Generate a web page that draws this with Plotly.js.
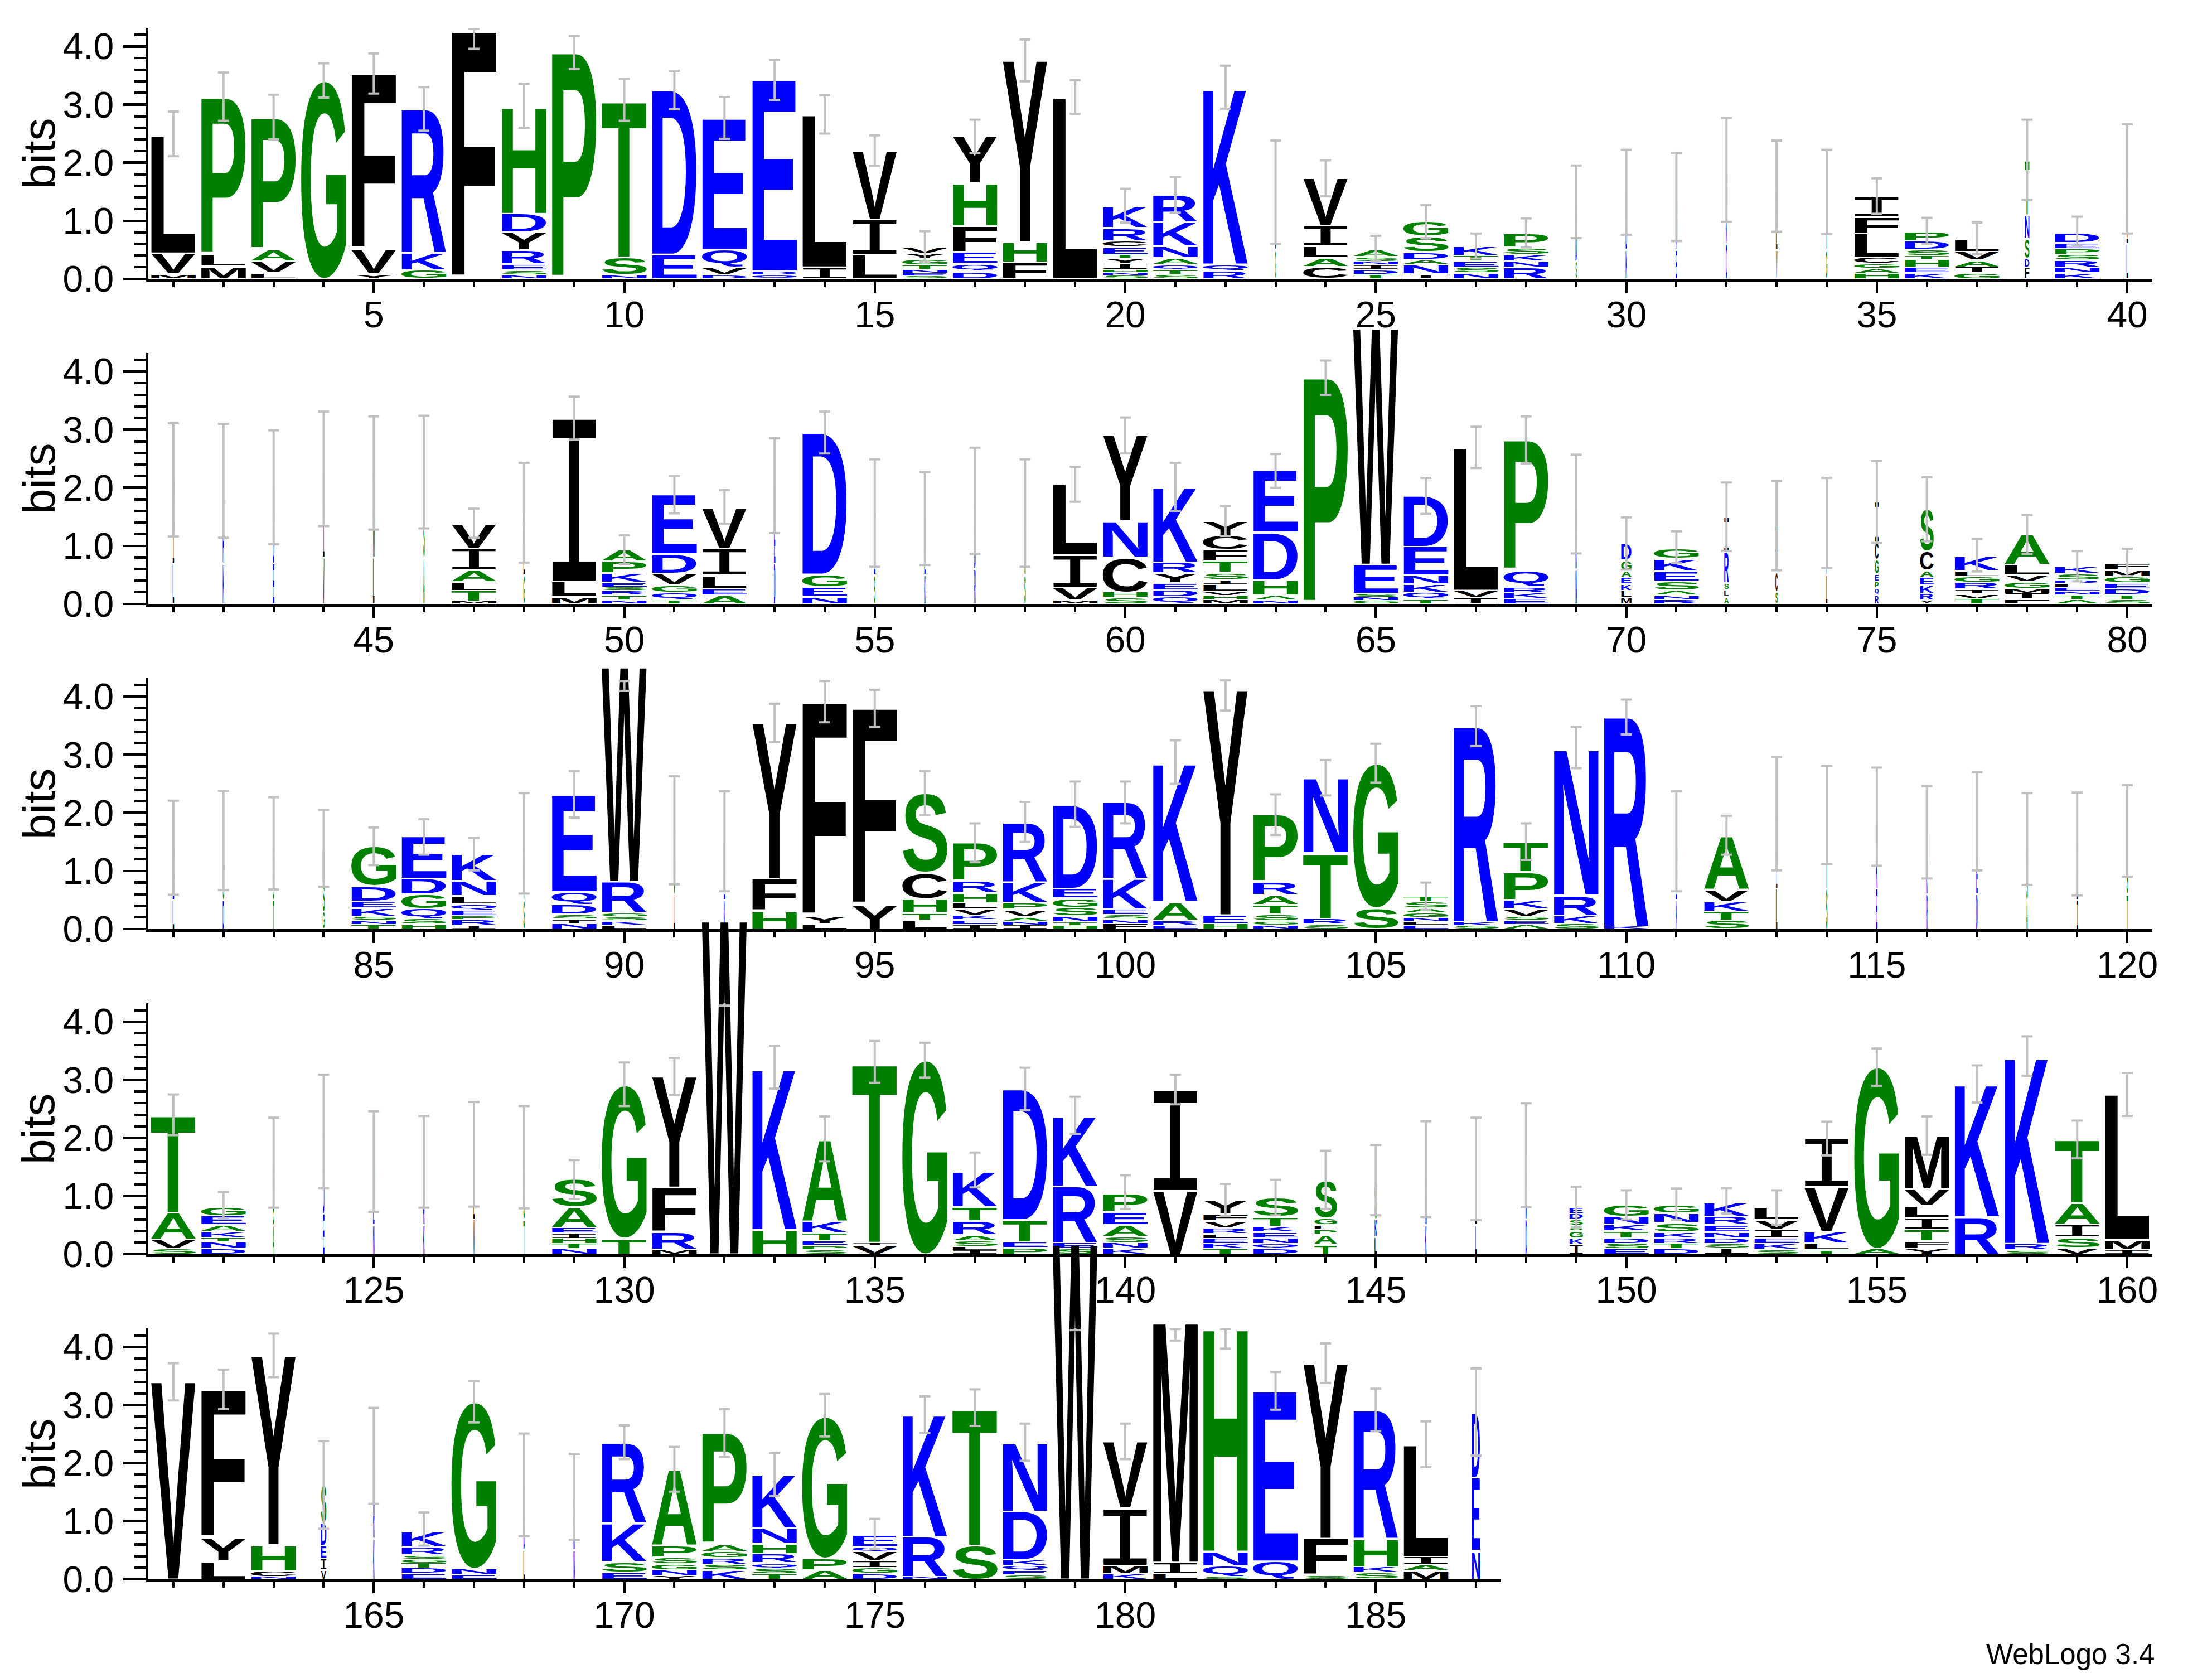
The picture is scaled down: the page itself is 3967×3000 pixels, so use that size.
<!DOCTYPE html>
<html>
<head>
<meta charset="utf-8">
<script src="https://cdn.plot.ly/plotly-3.0.1.min.js"></script>
<style>
html,body{margin:0;padding:0;background:#ffffff;}
#logo{width:3967px;height:3000px;}
</style>
</head>
<body>
<div id="logo"></div>
<script>
// Residues of each column, listed bottom -> top
const stackLetters = [
"MVL","MLP","LVAP","G","YVF","GKR","F","NSERYDH","P","NST",
"ED","DVQE","QDE","IL","LIV","SENTGYV","DQEFHY","FHY","L","SNHIYTECRK",
"STQANKR","RQK","GDL","CALIV","TDINSA","INADSG","NSETK","RNKSP","SDG","KDN",
"END","DKG","VLS","GTL","HAGCLFI","KEHTSDP","GIAVL","FDSNT","KNRSPED","LIV",
"LIV","KRD","EDN","VIL","LMI","ASG","MTLAIV","GLS","MLI","NTRSEKPA",
"TQGVDE","AELIV","DEK","NEGD","SET","KEN","RDK","SAG","MVIL","SHCNY",
"QDEYRK","MHVLISTFCY","NAHDE","P","GNSEW","TQKNED","IVL","EKRQP","NKD","MLKEAGD",
"RNASEKG","ALSRI","SCIT","LTG","RQPEGCI","YRKEACS","TVIRGLK","FIMGVLA","ATNELRSK","STDEGMF",
"LEV","DSL","TSG","GSK","TNSKEDG","HSQGDE","IRPEQLNK","STG","NISDQE","LKSGRW",
"LVI","KED","HFY","LYF","YF","LTHCS","IEKVLHRP","INAVPKR","HTNSGED","FNSEKR",
"ERAK","HEY","NGSTARP","SRTN","SG","ELNGAST","SKR","AESVKPT","SKRN","KR",
"KED","STKVA","LIV","STG","EKD","RKN","DEK","ASG","ILV","TSG",
"SVAT","DNTKAEG","ASG","EDK","NED","KRE","VLI","TSG","NTHIEAS","TG",
"MRFY","W","HK","SPETKA","VIT","G","ILSARTK","PETD","SERK","KNSAEP",
"VI","TKELRVFY","DQNEKTS","TAPLGS","LKS","KNG","LIV","DNG","IKGASDE","ESDTKNG",
"DTRKSNG","ISDNERK","SKEIVL","TLKVI","AG","YFTILVM","RK","SRK","VSIAT","IML",
"V","LYF","NCHY","VIEDS","KRD","EDTGSRK","ENG","LDI","NKR","ESKR",
"YNGSPA","KSRGAP","TSQRHNK","APG","DGIVQE","NRK","ST","SEQKDN","W","KMIV",
"LIM","SQNH","QE","SFY","SKHR","MAIL","NED"
];
// Height (bits) of each residue, same order as stackLetters
const stackBits = [
[.08,.36,2.02],[.22,.2,2.7],[.1,.2,.2,2.27],[3.41],[.08,.42,3.03],[.15,.3,2.47],[4.26],[.07,.08,.1,.24,.31,.32,1.85],[3.89],[.07,.3,2.71],
[.42,2.83],[.07,.13,.3,2.26],[.07,.06,3.3],[.2,2.62],[.42,.6,1.18],[.05,.05,.06,.08,.1,.1,.1],[.13,.13,.2,.45,.74,.81],[.28,.35,3.13],[3.12],[.06,.05,.05,.1,.1,.06,.13,.1,.23,.37],
[.08,.08,.09,.11,.2,.41,.47],[.14,.11,3.05],[.5,.5,.5],[.21,.15,.2,.36,.81],[.08,.08,.08,.06,.08,.13],[.08,.17,.08,.13,.27,.27],[.1,.1,.1,.1,.17],[.2,.1,.12,.12,.24],[.3,.6,.42],[.5,.5,.49],
[.5,.5,.41],[.6,.6,.68],[.5,.5,.6],[.5,.5,.5],[.1,.08,.08,.11,.41,.28,.36],[.1,.1,.14,.06,.1,.15,.17],[.1,.1,.12,.15,.23],[.2,.15,.35,.4,.95],[.1,.1,.12,.1,.1,.1,.18],[.6,.6,.52],
[.7,.7,.73],[.7,.7,.72],[.7,.7,.61],[.8,.8,.72],[.8,.7,.76],[.8,.7,.77],[.04,.19,.15,.2,.38,.42],[.5,.5,.57],[.13,.26,2.8],[.07,.08,.08,.06,.08,.16,.2,.2],
[.07,.13,.13,.19,.34,1.02],[.15,.11,.23,.46,.71],[.7,.7,.64],[.13,.16,.22,2.44],[.5,.5,.57],[.5,.5,.47],[.6,.6,.58],[.5,.5,.57],[.06,.22,.56,1.22],[.11,.09,.6,.63,1.48],
[.12,.12,.12,.17,.19,1.3],[.08,.07,.07,.12,.08,.12,.2,.19,.25,.25],[.07,.08,.26,.82,1.07],[3.89],[.06,.06,.06,.5,4.07],[.08,.12,.14,.15,.49,.88],[.11,.12,2.46],[.09,.1,.1,.29,2.24],[.6,.6,.52],[.11,.12,.11,.12,.11,.18,.28],
[.08,.07,.08,.16,.17,.22,.18],[.12,.12,.12,.53,.61],[.2,.35,.4,.4],[.5,.5,.4],[.15,.12,.12,.12,.25,.3,.7],[.06,.12,.14,.14,.12,.33,.73],[.09,.08,.08,.12,.1,.1,.25],[.08,.1,.08,.12,.12,.18,.53],[.08,.08,.06,.06,.08,.05,.11,.13],[.08,.08,.1,.1,.11,.12,.11],
[.5,.45,.45],[.5,.5,.53],[.5,.5,.47],[.3,.5,.59],[.08,.07,.07,.14,.12,.26,.68],[.08,.09,.18,.25,.27,.73],[.06,.1,.07,.09,.11,.14,.26,.46],[.5,.5,.48],[.09,.08,.08,.17,.22,1.68],[.07,.07,.07,.07,.53,3.7],
[.6,.5,.6],[.5,.5,.51],[.31,.55,2.69],[.08,.14,3.68],[.41,3.39],[.15,.13,.24,.45,1.37],[.08,.08,.08,.11,.1,.18,.2,.65],[.07,.07,.07,.13,.12,.35,1.03],[.06,.06,.1,.15,.16,.17,1.44],[.09,.08,.08,.09,.53,1.32],
[.07,.08,.32,2.4],[.09,.15,3.88],[.07,.07,.11,.17,.17,.22,1.17],[.08,.1,1.13,1.3],[.36,2.49],[.07,.07,.06,.08,.08,.11,.09],[.06,.06,3.36],[.08,.07,.07,.13,.15,.48,.51],[.09,.14,.35,2.54],[.04,3.61],
[.5,.5,.51],[.15,.15,.18,.2,.93],[.7,.6,.68],[.7,.6,.66],[.7,.6,.64],[.6,.5,.57],[.6,.6,.66],[.5,.5,.55],[.5,.5,.47],[.6,.5,.59],
[.09,.16,.46,1.69],[.1,.11,.08,.1,.11,.16,.16],[.5,.5,.58],[.7,.7,.72],[.5,.5,.6],[.5,.5,.59],[.6,.5,.62],[.6,.5,.57],[.09,.09,.09,.09,.1,.35,.48],[.27,2.64],
[.08,.3,.77,1.91],[5.74],[.42,2.79],[.08,.07,.08,.14,.2,1.41],[.15,.05,3.1],[3.34],[.07,.06,.1,.1,.24,.24,.62],[.11,.1,.38,2.25],[.1,.1,.97,1.22],[.1,.1,.1,.2,.23,.31],
[1.1,1.72],[.09,.09,.09,.08,.1,.12,.12,.25],[.1,.08,.1,.1,.1,.16,.33],[.17,.17,.08,.08,.12,.65],[.3,.3,.67],[.5,.5,.46],[.5,.5,.47],[.6,.5,.6],[.17,.1,.13,.1,.1,.1,.11],[.09,.09,.09,.13,.11,.14,.2],
[.09,.09,.1,.1,.16,.16,.14],[.1,.08,.1,.1,.13,.14,.24],[.08,.1,.1,.15,.16,.23],[.07,.12,.2,.77,.84],[.09,3.13],[.1,.13,.2,.2,.2,.29,.92],[.64,2.3],[.07,.11,3.23],[.11,.18,.22,.37,1.1],[.07,.18,2.5],
[3.4],[.31,.4,2.55],[.05,.09,.45,3.26],[.16,.2,.22,.4,.65],[.7,.7,.73],[.1,.09,.09,.07,.07,.14,.26],[.08,.1,2.87],[.5,.5,.63],[.5,.5,.42],[.12,.18,.67,1.38],
[.06,.1,.1,.12,.2,1.31],[.16,.1,.11,.11,.13,1.91],[.09,.1,.09,.16,.18,.26,.92],[.16,.2,2.44],[.1,.1,.12,.16,.08,.2],[.04,.69,2.12],[.58,2.37],[.08,.08,.08,.09,.84,1.19],[5.77],[.09,.15,.98,1.15],
[.09,.2,4.18],[.05,.18,.25,3.87],[.31,2.93],[.07,.63,3.02],[.12,.09,.49,2.21],[.15,.1,.14,1.92],[.49,1.26,1.11]
];
// Fraction of full column width (gappy columns are drawn narrow)
const columnWidth = [
1,1,1,1,1,1,1,1,1,1, 1,1,1,1,1,1,1,1,1,1, 1,1,.02,1,1,1,1,1,.03,.03, .03,.03,.03,.03,1,1,1,.1,1,.03,
.03,.03,.03,.03,.03,.03,1,.03,1,1, 1,1,.03,1,.03,.03,.03,.03,1,1, 1,1,1,1,1,1,1,1,.03,.23, 1,.1,.05,.03,.08,.3,1,1,1,1,
.03,.03,.03,.04,1,1,1,.03,1,1, .03,.03,1,1,1,1,1,1,1,1, 1,1,1,1,1,1,1,1,1,1, .03,1,.03,.03,.03,.03,.03,.03,.03,.03,
1,1,.03,.03,.03,.03,.03,.03,1,1, 1,1,1,1,1,1,1,1,1,1, 1,1,1,.5,.05,.03,.03,.03,.3,1, 1,1,1,1,1,1,1,1,1,1,
1,1,1,.12,.03,1,1,.03,.03,1, 1,1,1,1,1,1,1,1,1,1, 1,1,1,1,1,1,.18
];
// Error bar ends (bits)
const errorLow = [
2.11,2.72,2.40,3.12,3.19,2.55,3.96,2.60,3.61,2.72, 2.92,2.41,3.08,2.50,1.94,0.29,2.16,3.40,2.84,0.97,
1.14,2.93,0.60,1.42,0.30,0.70,0.35,0.54,0.70,0.76, 0.65,0.98,0.81,0.77,1.12,0.60,0.43,1.36,0.57,0.78,
1.16,1.14,1.03,1.34,1.28,1.30,1.14,0.71,2.83,0.69, 1.56,1.38,1.22,2.59,0.64,0.67,0.86,0.64,1.76,2.59,
1.60,1.17,2.00,3.60,4.34,1.55,2.34,2.42,0.87,0.59, 0.70,0.91,0.58,0.62,1.05,1.08,0.56,0.86,0.39,0.48,
0.59,0.67,0.68,0.73,1.10,1.28,1.01,0.61,1.92,4.10, 0.77,0.65,3.22,3.56,3.48,1.96,1.15,1.50,1.76,1.82,
2.50,3.76,1.62,2.30,2.52,0.33,3.15,1.19,2.77,3.35, 0.65,1.28,1.01,1.12,1.09,0.87,1.01,0.76,0.58,0.90,
2.05,0.61,0.80,1.14,0.73,0.80,0.82,0.79,0.95,2.55, 2.74,4.28,2.85,1.60,2.95,3.04,1.15,2.48,2.07,0.78,
2.58,0.66,0.67,0.78,0.67,0.64,0.59,0.81,0.46,0.60, 0.59,0.70,0.51,1.70,2.90,1.71,2.61,3.07,1.65,2.38,
3.08,2.93,3.48,0.87,1.30,0.58,2.70,0.74,0.68,2.07, 1.51,2.11,1.43,2.46,0.52,2.52,2.64,2.04,4.29,2.07,
4.11,3.97,2.92,3.38,2.55,1.93,2.13
];
const errorHigh = [
2.88,3.55,3.17,3.71,3.88,3.30,4.30,3.36,4.18,3.44, 3.58,3.13,3.77,3.16,2.47,0.82,2.74,4.12,3.42,1.55,
1.75,3.67,2.38,2.04,0.74,1.27,0.78,1.04,1.95,2.22, 2.17,2.77,2.38,2.22,1.73,1.05,0.97,2.74,1.07,2.66,
3.11,3.10,2.99,3.31,3.23,3.24,1.64,2.43,3.57,1.18, 2.20,1.96,2.85,3.31,2.49,2.27,2.69,2.49,2.36,3.21,
2.43,1.68,2.58,4.19,4.72,2.17,3.05,3.23,2.57,1.49, 1.25,2.09,2.12,2.17,2.46,2.18,1.12,1.53,0.91,0.95,
2.21,2.38,2.27,2.05,1.75,1.89,1.57,2.34,2.72,4.27, 2.63,2.37,3.88,4.27,4.12,2.72,1.82,2.19,2.54,2.54,
3.25,4.28,2.32,2.91,3.19,0.80,3.84,1.82,3.48,3.95, 2.37,1.95,2.96,2.81,2.78,2.46,2.70,2.34,2.35,2.48,
2.75,1.07,2.35,3.09,2.46,2.38,2.62,2.55,1.62,3.30, 3.38,5.44,3.59,2.37,3.67,3.64,1.75,3.21,2.71,1.36,
3.09,1.21,1.28,1.78,1.88,2.29,2.35,2.60,1.16,1.10, 1.13,1.14,1.10,2.28,3.54,2.37,3.25,3.75,2.30,3.12,
3.72,3.61,4.23,2.38,2.95,1.15,3.41,2.51,2.16,2.65, 2.28,2.93,2.17,3.19,1.04,3.15,3.27,2.68,5.44,2.68,
4.31,4.31,3.57,4.06,3.28,2.72,3.63
];
const rowFirst = [1, 41, 81, 121, 161];
const rowLast  = [40, 80, 120, 160, 187];
const yAxisMax = 4.32;   // log2(20)
const yAxisTitle = "bits";
const creditText = "WebLogo 3.4";

// ---------------- STYLE ----------------
const residueColor = {};
"LFVYWIMC".split("").forEach(c => residueColor[c] = "#000000");
"PGHTSA".split("").forEach(c => residueColor[c] = "#008000");
"RDEKNQ".split("").forEach(c => residueColor[c] = "#0000ff");
const GLYPH_FILL = 0.45;     // half width of a full column glyph (position units)
const CAP_HALF = 0.11;       // error-bar cap half width (position units)
const BASE_FONT = 100;
const W = 3967, H = 3000, ML = 266, MR = 107, MT = 50, MB = 168;
const ROW_BASE_PX = [500, 1083, 1666, 2249, 2832];
const ROW_H_PX = 450;
const plotH = H - MT - MB;
const plotW = W - ML - MR;
const labelFont = "Liberation Sans, Arial, Helvetica, sans-serif";

function glyphFont(ch) {
  return ch === "I" ? {family: "Liberation Mono", weight: "normal"}
                    : {family: "Liberation Sans", weight: "bold"};
}

// ---------------- TRACES / LAYOUT ----------------
const traces = [];
const annotations = [{
  xref: "paper", yref: "paper",
  x: (3866 - ML) / plotW, y: (H - MB - 2966) / plotH,
  xanchor: "right", yanchor: "middle", showarrow: false,
  text: creditText, font: {family: labelFont, size: 51, color: "#000000"}
}];
const layout = {
  width: W, height: H,
  margin: {l: ML, r: MR, t: MT, b: MB, pad: 0},
  paper_bgcolor: "#ffffff", plot_bgcolor: "#ffffff",
  showlegend: false,
  font: {family: labelFont, color: "#000000"},
  annotations: annotations
};

for (let r = 0; r < 5; r++) {
  const s = r === 0 ? "" : String(r + 1);
  const first = rowFirst[r], last = rowLast[r];
  const yb = (H - MB - ROW_BASE_PX[r]) / plotH;
  const yt = Math.min(1, (H - MB - ROW_BASE_PX[r] + ROW_H_PX) / plotH);
  const xEnd = (last - first + 1) / 40;

  layout["xaxis" + s] = {
    domain: [0, xEnd], range: [first - 0.5, last + 0.5], anchor: "y" + s,
    tick0: 0, dtick: 5, ticks: "outside", ticklen: 20, tickwidth: 4, tickcolor: "#000",
    showline: true, linewidth: 5, linecolor: "#000", showgrid: false, zeroline: false,
    ticklabelstandoff: -17,
    tickfont: {family: labelFont, size: 66, color: "#000"},
    minor: {dtick: 1, ticks: "outside", ticklen: 10, tickwidth: 4, tickcolor: "#000", showgrid: false},
    fixedrange: true
  };
  layout["yaxis" + s] = {
    domain: [yb, yt], range: [0, yAxisMax], anchor: "x" + s,
    tick0: 0, dtick: 1, tickformat: ".1f", ticks: "outside", ticklen: 41, tickwidth: 4.5, tickcolor: "#000",
    showline: true, linewidth: 4.5, linecolor: "#000", showgrid: false, zeroline: false,
    ticklabelstandoff: 3,
    tickfont: {family: labelFont, size: 66, color: "#000"},
    minor: {dtick: 0.2, ticks: "outside", ticklen: 21, tickwidth: 4.5, tickcolor: "#000", showgrid: false},
    fixedrange: true
  };
  // "bits" axis label for this row
  annotations.push({
    xref: "paper", yref: "paper",
    x: (69 - ML) / plotW, y: (yb + yt) / 2,
    xanchor: "center", yanchor: "middle", showarrow: false, textangle: -90,
    text: yAxisTitle, font: {family: labelFont, size: 82, color: "#000000"}
  });

  // letters
  const lx = [], ly = [], lt = [], lc = [], cdat = [];
  for (let p = first; p <= last; p++) {
    const letters = stackLetters[p - 1], bits = stackBits[p - 1];
    const hw = GLYPH_FILL * columnWidth[p - 1];
    let cum = 0;
    const n = Math.min(letters.length, bits.length);
    for (let i = 0; i < n; i++) {
      const y0 = cum, y1 = cum + bits[i];
      lx.push(p); ly.push((y0 + y1) / 2); lt.push(letters[i]);
      lc.push(residueColor[letters[i]] || "#000");
      cdat.push([p, hw, y0, y1]);
      cum = y1;
    }
  }
  traces.push({
    type: "scatter", mode: "text", x: lx, y: ly, text: lt, customdata: cdat,
    textposition: "middle center",
    textfont: {family: "Liberation Sans", size: BASE_FONT, color: lc},
    xaxis: "x" + s, yaxis: "y" + s, cliponaxis: false, hoverinfo: "skip", showlegend: false
  });

  // error bars (vertical line + two caps)
  const ex = [], ey = [];
  for (let p = first; p <= last; p++) {
    const lo = errorLow[p - 1], hi = errorHigh[p - 1];
    ex.push(p, p, null); ey.push(lo, hi, null);
    ex.push(p - CAP_HALF, p + CAP_HALF, null); ey.push(hi, hi, null);
    ex.push(p - CAP_HALF, p + CAP_HALF, null); ey.push(lo, lo, null);
  }
  traces.push({
    type: "scatter", mode: "lines", x: ex, y: ey,
    line: {color: "#c0c0c0", width: 4},
    xaxis: "x" + s, yaxis: "y" + s, cliponaxis: false, hoverinfo: "skip", showlegend: false,
    connectgaps: false
  });
}

// ---------------- stretch each letter glyph into its stack cell ----------------
function axisKey(id) { return (id.charAt(0) === "x" ? "xaxis" : "yaxis") + id.slice(1); }

function stretchLetters(gd) {
  const fl = gd._fullLayout;
  const ctx = document.createElement("canvas").getContext("2d");
  const cache = {};
  function ink(ch) {
    const f = glyphFont(ch);
    if (cache[ch]) return cache[ch];
    ctx.font = f.weight + " " + BASE_FONT + 'px "' + f.family + '"';
    const m = ctx.measureText(ch);
    const res = {l: m.actualBoundingBoxLeft, r: m.actualBoundingBoxRight,
                 a: m.actualBoundingBoxAscent, d: m.actualBoundingBoxDescent, f: f};
    cache[ch] = res;
    return res;
  }
  gd.querySelectorAll("g.trace").forEach(function (tg) {
    const cd = tg.__data__;
    if (!cd || !cd[0] || !cd[0].trace || cd[0].trace.mode !== "text") return;
    const tr = cd[0].trace;
    const xa = fl[axisKey(tr.xaxis)], ya = fl[axisKey(tr.yaxis)];
    tg.querySelectorAll("g.textpoint").forEach(function (g) {
      const d = g.__data__;
      const t = g.querySelector("text");
      if (!d || !t) return;
      const info = d.data || (tr.customdata && tr.customdata[d.i]);
      if (!info) return;
      const ch = t.textContent;
      const k = ink(ch);
      const px0 = xa.l2p(info[0] - info[1]), px1 = xa.l2p(info[0] + info[1]);
      const pyB = ya.l2p(info[2]), pyT = ya.l2p(info[3]);
      const cell = pyB - pyT;
      const pad = Math.min(1.5, cell * 0.12);
      const top = pyT + pad, bot = pyB - pad;
      const iw = Math.max(1e-6, k.l + k.r), ih = Math.max(1e-6, k.a + k.d);
      const sx = (px1 - px0) / iw, sy = Math.max(0.0001, bot - top) / ih;
      g.removeAttribute("transform");
      t.setAttribute("x", 0); t.setAttribute("y", 0);
      t.removeAttribute("dy");
      t.setAttribute("text-anchor", "start");
      t.style.fontFamily = '"' + k.f.family + '"';
      t.style.fontWeight = k.f.weight;
      t.style.fontSize = BASE_FONT + "px";
      t.setAttribute("transform",
        "translate(" + (px0 + k.l * sx) + "," + (bot - k.d * sy) + ") scale(" + sx + "," + sy + ")");
    });
  });
}

const gd = document.getElementById("logo");
Plotly.newPlot(gd, traces, layout, {staticPlot: true, responsive: false, displayModeBar: false})
  .then(function () { stretchLetters(gd); });
</script>
</body>
</html>
